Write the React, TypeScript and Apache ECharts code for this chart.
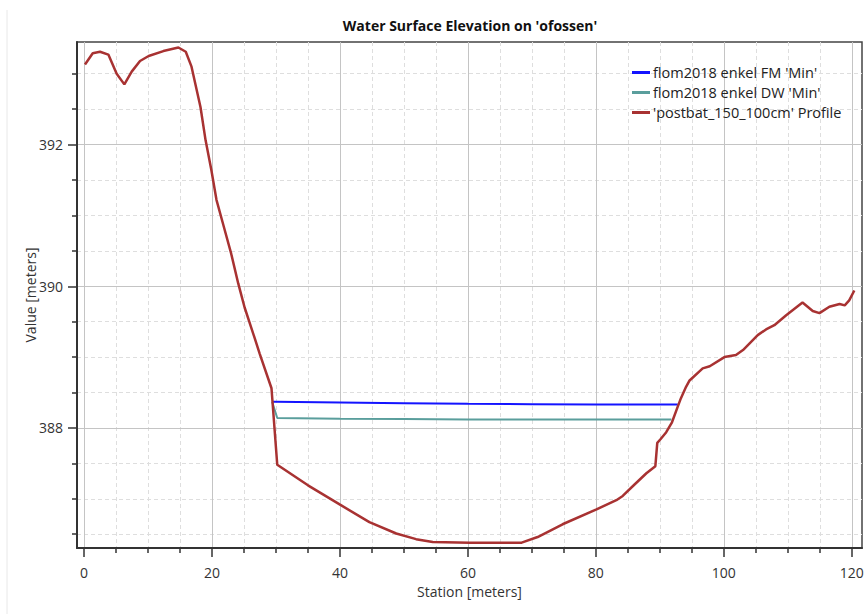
import React, { useEffect, useRef } from "react";
import * as echarts from "echarts";

// Ground / water profile "'postbat_150_100cm' Profile"
const profileStations = [
  0.15, 1.36, 2.5, 3.8, 5.1, 6.3, 7.45, 8.75, 10.1, 12.4, 14.75, 15.9, 16.8, 18.2, 19.0, 19.9,
  20.7, 21.7, 23.0, 24.1, 25.1, 26.7, 27.45, 29.3, 30.2, 35.0, 39.95, 44.6, 48.8, 51.9, 54.5,
  60.3, 65.0, 68.4, 70.9, 74.8, 80.1, 83.2, 84.2, 85.8, 87.9, 89.3, 89.6, 90.1, 91.0, 91.9,
  92.8, 93.3, 94.1, 94.65, 96.7, 97.8, 100.1, 101.9, 103.0, 105.3, 106.6, 107.9, 109.75,
  112.3, 113.9, 114.95, 116.5, 118.1, 118.9, 119.6, 120.4,
];
const profileValues = [
  393.13, 393.29, 393.31, 393.27, 393.0, 392.85, 393.03, 393.18, 393.25, 393.32, 393.37, 393.31,
  393.1, 392.53, 392.06, 391.64, 391.22, 390.89, 390.46, 390.04, 389.7, 389.26, 389.05, 388.56,
  387.48, 387.19, 386.92, 386.67, 386.51, 386.43, 386.39, 386.38, 386.38, 386.38, 386.46,
  386.64, 386.85, 386.98, 387.04, 387.18, 387.36, 387.46, 387.79, 387.84, 387.94, 388.08,
  388.3, 388.42, 388.58, 388.67, 388.84, 388.87, 389.0, 389.03, 389.1, 389.31, 389.39, 389.45,
  389.59, 389.77, 389.65, 389.62, 389.71, 389.75, 389.73, 389.8, 389.94,
];

// "flom2018 enkel FM 'Min'"
const fmStations = [29.4, 30.0, 40.0, 50.0, 60.0, 70.0, 80.0, 92.8];
const fmValues = [388.37, 388.37, 388.36, 388.35, 388.34, 388.335, 388.33, 388.33];

// "flom2018 enkel DW 'Min'"
const dwStations = [29.4, 30.2, 40.0, 50.0, 60.0, 70.0, 80.0, 91.8];
const dwValues = [388.37, 388.14, 388.13, 388.125, 388.12, 388.12, 388.12, 388.12];

const seriesNames = ["flom2018 enkel FM 'Min'", "flom2018 enkel DW 'Min'", "'postbat_150_100cm' Profile"];
const seriesColors = ["#1414ff", "#5a9e9c", "#a83232"];

const xMajorTicks = [0, 20, 40, 60, 80, 100, 120];
const xMinorTicks = [5, 10, 15, 25, 30, 35, 45, 50, 55, 65, 70, 75, 85, 90, 95, 105, 110, 115];
const yMajorTicks = [388, 390, 392];
const yMinorTicks = [386.5, 387, 387.5, 388.5, 389, 389.5, 390.5, 391, 391.5, 392.5, 393];

const xMin = -1.1;
const xMax = 121.6;
const yMin = 386.305;
const yMax = 393.448;

const zip = (xs: number[], ys: number[]) => xs.map((x, i) => [x, ys[i]]);

const FONT = "'Open Sans', 'Noto Sans', sans-serif";

export default function App() {
  const ref = useRef<HTMLDivElement>(null);

  useEffect(() => {
    if (!ref.current) return;
    const chart = echarts.init(ref.current, undefined, { renderer: "svg" });
    const axisColor = "#333";
    const option: any = {
      animation: false,
      backgroundColor: "#ffffff",
      textStyle: { fontFamily: FONT },
      title: {
        text: "Water Surface Elevation on 'ofossen'",
        left: 470,
        top: 18,
        padding: 0,
        textAlign: "center",
        textStyle: { fontFamily: FONT, fontSize: 14, fontWeight: "bold", color: "#111" },
      },
      graphic: [
        {
          type: "line",
          shape: { x1: 7, y1: 10, x2: 7, y2: 614 },
          style: { stroke: "#e8e8e8", lineWidth: 1 },
          silent: true,
        },
      ],
      legend: {
        orient: "vertical",
        left: 632,
        top: 64,
        padding: 0,
        itemGap: 3,
        itemWidth: 18,
        itemHeight: 3,
        icon: "rect",
        data: seriesNames,
        textStyle: { fontFamily: FONT, fontSize: 14.5, lineHeight: 17, color: "#222", padding: [0, 0, 0, -2] },
      },
      grid: {
        left: 77,
        top: 42,
        right: 5,
        bottom: 66,
        show: true,
        borderColor: "#444",
        borderWidth: 1.5,
        backgroundColor: "transparent",
      },
      xAxis: [
        {
          type: "value",
          min: xMin,
          max: xMax,
          position: "bottom",
          name: "Station [meters]",
          nameLocation: "middle",
          nameGap: 36,
          nameMoveOverlap: false,
          nameTextStyle: { fontFamily: FONT, fontSize: 14, color: "#333" },
          axisLine: { show: true, onZero: false, lineStyle: { color: axisColor, width: 2 } },
          axisTick: { show: true, length: 9, customValues: xMajorTicks, lineStyle: { color: axisColor, width: 1.5 } },
          axisLabel: { customValues: xMajorTicks, margin: 17, fontSize: 14, color: "#333", fontFamily: FONT },
          splitLine: { show: true, lineStyle: { color: "#c4c4c4", width: 1, type: "solid" } },
          z: 3,
        },
        {
          type: "value",
          min: xMin,
          max: xMax,
          position: "bottom",
          axisLine: { show: false, onZero: false },
          axisTick: { show: true, length: 5, customValues: xMinorTicks, lineStyle: { color: axisColor, width: 1.5 } },
          axisLabel: { show: false },
          splitLine: { show: true, lineStyle: { color: "#dedede", width: 1, type: [4, 3] } },
          z: 1,
        },
      ],
      yAxis: [
        {
          type: "value",
          min: yMin,
          max: yMax,
          position: "left",
          name: "Value [meters]",
          nameLocation: "middle",
          nameGap: 40,
          nameMoveOverlap: false,
          nameTextStyle: { fontFamily: FONT, fontSize: 14, color: "#333" },
          axisLine: { show: true, onZero: false, lineStyle: { color: axisColor, width: 2 } },
          axisTick: { show: true, length: 9, customValues: yMajorTicks, lineStyle: { color: axisColor, width: 1.5 } },
          axisLabel: { customValues: yMajorTicks, margin: 14, fontSize: 14, color: "#333", fontFamily: FONT },
          splitLine: { show: true, lineStyle: { color: "#c4c4c4", width: 1, type: "solid" } },
          z: 3,
        },
        {
          type: "value",
          min: yMin,
          max: yMax,
          position: "left",
          axisLine: { show: false, onZero: false },
          axisTick: { show: true, length: 5, customValues: yMinorTicks, lineStyle: { color: axisColor, width: 1.5 } },
          axisLabel: { show: false },
          splitLine: { show: true, lineStyle: { color: "#dedede", width: 1, type: [4, 3] } },
          z: 1,
        },
      ],
      series: [
        {
          name: seriesNames[0],
          type: "line",
          xAxisIndex: 0,
          yAxisIndex: 0,
          data: zip(fmStations, fmValues),
          symbol: "none",
          color: seriesColors[0],
          lineStyle: { color: seriesColors[0], width: 2 },
          z: 5,
        },
        {
          name: seriesNames[1],
          type: "line",
          xAxisIndex: 0,
          yAxisIndex: 0,
          data: zip(dwStations, dwValues),
          symbol: "none",
          color: seriesColors[1],
          lineStyle: { color: seriesColors[1], width: 2 },
          z: 6,
        },
        {
          name: seriesNames[2],
          type: "line",
          xAxisIndex: 0,
          yAxisIndex: 0,
          data: zip(profileStations, profileValues),
          symbol: "none",
          color: seriesColors[2],
          lineStyle: { color: seriesColors[2], width: 2.5 },
          z: 7,
        },
      ],
    };
    chart.setOption(option);
    return () => chart.dispose();
  }, []);

  return (
    <div
      ref={ref}
      style={{ position: "fixed", left: 0, top: 0, width: 867, height: 614, background: "#fff" }}
    />
  );
}
